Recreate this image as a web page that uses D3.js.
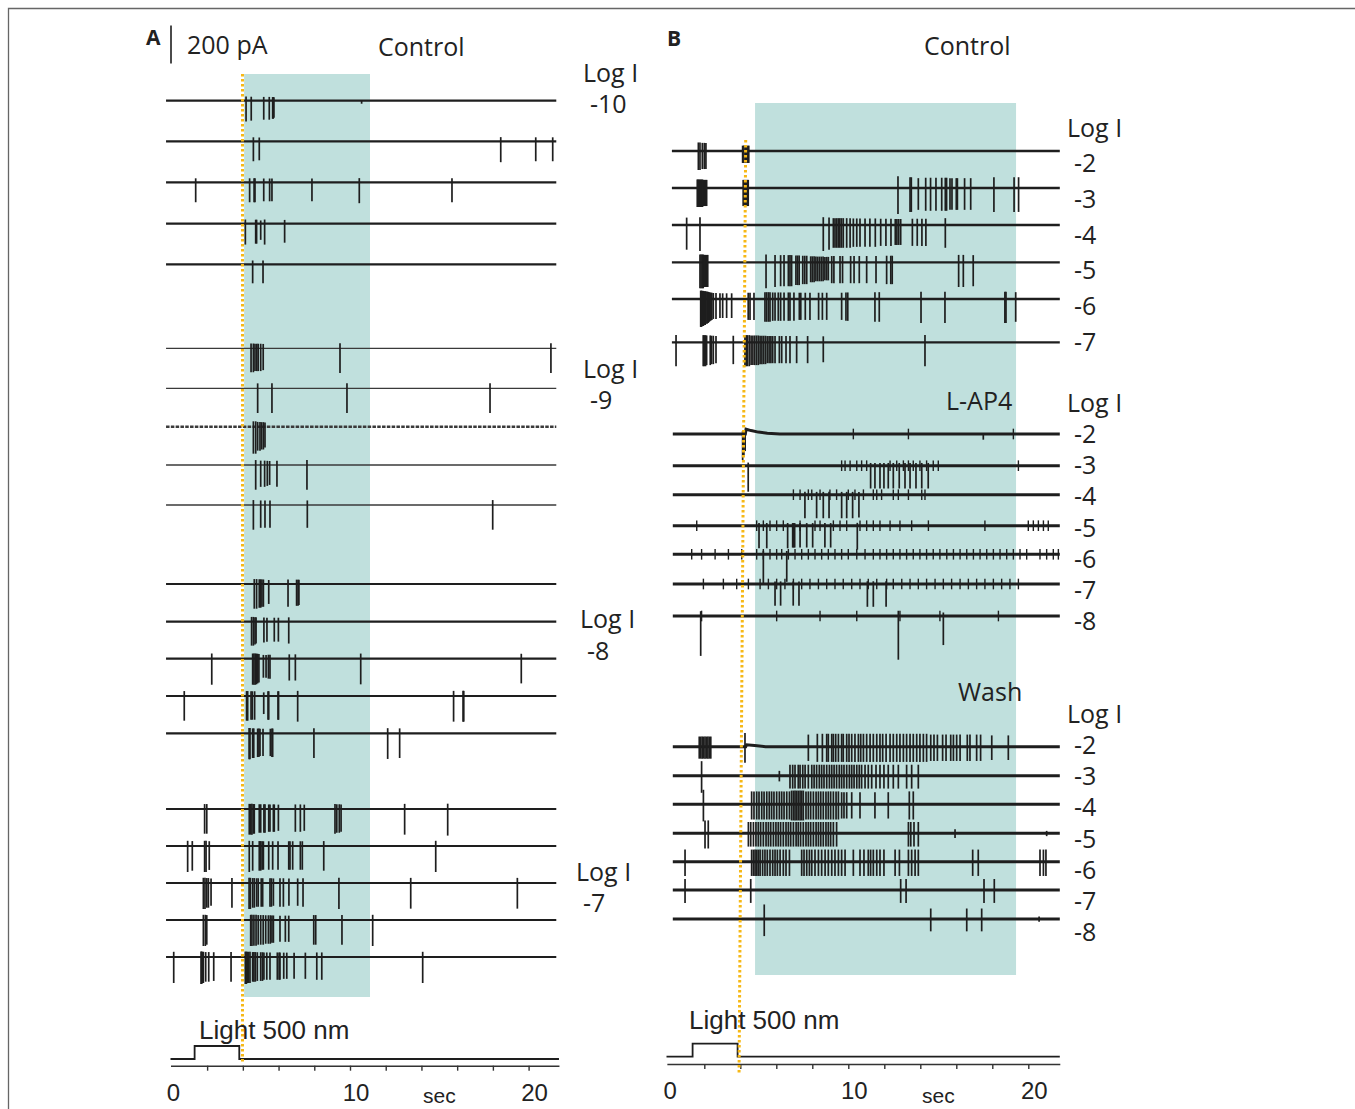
<!DOCTYPE html>
<html>
<head>
<meta charset="utf-8">
<script src="https://cdn.jsdelivr.net/npm/d3@7"></script>
<style>
  body { margin: 0; background: #fff; }
  svg  { display: block; }
  .lbl { font-family: 'Open Sans', sans-serif; fill: #222; }
  .ax  { font-family: 'Liberation Sans', Arial, sans-serif; fill: #222; }
</style>
</head>
<body>
<div id="fig"></div>
<script>
// ---------------- data (times in s, spike amplitudes in pA) ----------------

var tickTimes  = [2, 4, 6, 8, 10, 12, 14, 16, 18, 20];
var tickLabels = [0, 10, 20];

var logIA       = [-10, -9, -8, -7];
var logIControl = [-2, -3, -4, -5, -6, -7];
var logILap4    = [-2, -3, -4, -5, -6, -7, -8];
var logIWash    = [-2, -3, -4, -5, -6, -7, -8];

var lightA  = [1.3, 3.8];
var lightB  = [1.35, 3.85];
var drugA   = [4.07, 11.12];
var drugB   = [4.82, 19.32];
var markA   = [3.98, 3.98];
var markB   = [4.3, 3.93];

// Panel A, Log I -10
var aLog10 = [
  [[4.18,110],[4.47,105],[5.17,100],[5.48,100],[5.67,95],[5.7,95],[5.74,90],[10.65,16]],
  [[4.59,105],[4.92,100],[18.44,110],[20.4,105],[21.35,105]],
  [[1.36,105],[4.38,105],[4.63,105],[4.68,105],[5.17,100],[5.5,100],[5.63,100],[7.87,100],[10.52,110],[15.71,105]],
  [[4.14,110],[4.72,105],[4.77,105],[5.0,85],[5.22,110],[6.34,100]],
  [[4.55,100],[5.13,100]]
];
// Panel A, Log I -9
var aLog9 = [
  [[4.46,126],[4.59,126],[4.68,120],[4.78,120],[4.86,120],[5.0,120],[5.14,115],[9.44,130],[21.25,130]],
  [[4.83,130],[5.63,130],[9.83,130],[17.84,130]],
  [[4.59,142],[4.72,142],[4.83,126],[4.96,126],[5.05,120],[5.15,120],[5.24,110]],
  [[4.72,130],[5.0,115],[5.22,115],[5.37,110],[5.5,105],[5.91,115],[7.59,130]],
  [[4.59,130],[5.0,120],[5.24,120],[5.52,120],[7.61,120],[17.99,130]]
];
// Panel A, Log I -8
var aLog8 = [
  [[4.64,130],[4.77,130],[4.92,125],[5.0,125],[5.07,120],[5.15,120],[5.45,105],[6.53,120],[7.01,115],[7.09,115],[7.14,110]],
  [[4.49,126],[4.59,126],[4.68,120],[4.74,115],[5.18,110],[5.35,105],[5.76,105],[5.99,105],[6.57,115]],
  [[2.26,137],[4.55,137],[4.62,137],[4.69,137],[4.76,135],[4.83,130],[4.9,125],[5.15,100],[5.3,100],[5.43,105],[5.52,105],[6.6,115],[6.94,115],[10.6,135],[19.59,130]],
  [[0.72,130],[4.21,130],[4.27,130],[4.46,125],[4.53,125],[4.66,125],[5.17,95],[5.41,125],[5.45,125],[5.97,125],[6.0,125],[7.07,135],[15.8,135],[16.33,135],[16.37,135]],
  [[4.35,137],[4.4,137],[4.55,130],[4.61,130],[4.83,125],[4.9,125],[4.96,120],[5.13,120],[5.54,120],[5.63,125],[5.67,125],[7.98,130],[12.11,135],[12.78,130]]
];
// Panel A, Log I -7
var aLog7 = [
  [[1.86,130],[1.98,130],[4.36,135],[4.44,135],[4.51,135],[4.59,130],[4.64,130],[4.92,125],[5.0,125],[5.18,125],[5.24,125],[5.45,120],[5.52,120],[5.71,120],[5.76,120],[5.99,115],[6.94,120],[7.22,120],[7.44,115],[9.16,130],[9.26,125],[9.4,125],[9.5,120],[13.06,135],[15.47,140]],
  [[0.91,137],[1.17,130],[1.86,137],[1.94,137],[2.12,126],[4.36,137],[4.55,130],[4.92,130],[5.0,130],[5.08,125],[5.15,125],[5.45,125],[5.67,125],[5.97,125],[6.57,125],[6.64,125],[6.79,125],[7.22,125],[7.33,125],[8.53,130],[14.8,137]],
  [[1.79,137],[1.88,137],[1.98,130],[2.07,130],[2.22,120],[3.39,130],[4.35,137],[4.42,137],[4.55,130],[4.64,130],[4.77,125],[4.86,125],[5.03,125],[5.11,125],[5.52,125],[5.6,125],[5.71,120],[6.08,125],[6.27,125],[6.58,120],[7.07,120],[7.37,125],[9.38,137],[13.4,135],[19.37,135]],
  [[1.79,137],[1.9,137],[1.98,130],[4.44,137],[4.51,137],[4.62,135],[4.74,135],[4.86,130],[5.0,130],[5.14,130],[5.28,125],[5.43,125],[5.54,125],[5.63,120],[5.71,120],[6.08,115],[6.38,115],[6.57,115],[7.97,130],[8.08,130],[9.55,130],[11.27,137]],
  [[0.13,137],[1.66,142],[1.7,142],[1.74,137],[1.79,137],[1.92,130],[2.09,130],[2.37,126],[3.34,130],[4.14,142],[4.2,142],[4.26,137],[4.32,137],[4.4,137],[4.55,130],[4.62,130],[4.7,130],[4.81,126],[5.0,126],[5.1,126],[5.18,120],[5.34,120],[5.52,120],[5.93,120],[6.03,120],[6.08,120],[6.29,115],[6.46,115],[6.87,115],[7.5,115],[8.14,120],[8.42,120],[14.07,137]]
];

// Panel B, Control
var bControl = [
  [[1.67,100],[1.76,100],[1.89,95],[2.0,95],[2.09,95],[4.13,63],[4.2,63],[4.27,63],[4.33,63],[4.4,63],[4.47,63]],
  [[1.61,100],[1.66,100],[1.72,100],[1.78,100],[1.84,100],[1.9,100],[1.96,95],[2.02,95],[2.08,95],[2.13,95],[4.16,95],[4.22,95],[4.28,95],[4.34,95],[4.4,95],[4.44,95],[12.76,137],[13.43,126],[13.5,126],[13.89,115],[14.3,120],[14.57,120],[14.87,120],[15.19,120],[15.39,120],[15.46,120],[15.65,115],[15.76,115],[16.0,115],[16.06,115],[16.46,115],[16.8,115],[18.09,126],[19.21,126],[19.46,126]],
  [[1.02,130],[1.76,137],[8.61,137],[8.93,130],[9.17,120],[9.26,120],[9.35,120],[9.44,120],[9.53,120],[9.62,120],[9.72,120],[9.91,120],[10.1,120],[10.28,115],[10.47,115],[10.65,115],[10.93,115],[11.2,115],[11.5,115],[11.8,110],[12.09,110],[12.37,110],[12.61,105],[12.7,105],[12.8,105],[12.91,105],[13.56,110],[13.83,110],[14.09,110],[14.31,110],[15.39,120]],
  [[1.76,137],[1.82,137],[1.88,137],[1.94,137],[2.0,130],[2.06,130],[2.12,130],[2.19,130],[5.43,137],[5.93,130],[6.24,126],[6.43,126],[6.67,126],[6.76,126],[6.85,126],[7.09,120],[7.18,120],[7.27,120],[7.47,115],[7.58,115],[7.69,115],[7.91,105],[8.0,105],[8.1,105],[8.2,100],[8.3,100],[8.4,100],[8.5,100],[8.6,100],[8.7,95],[8.8,95],[8.89,95],[9.08,110],[9.2,110],[9.54,110],[9.68,110],[10.13,110],[10.32,110],[10.61,110],[11.02,110],[11.54,110],[12.13,115],[12.36,115],[12.44,115],[16.13,130],[16.39,130],[16.94,126]],
  [[1.8,147],[1.85,147],[1.9,142],[1.95,142],[2.0,137],[2.05,137],[2.1,130],[2.16,130],[2.22,126],[2.28,120],[2.35,115],[2.42,110],[2.5,105],[2.65,105],[2.87,100],[3.02,100],[3.24,100],[3.52,100],[4.44,110],[4.54,110],[4.76,110],[5.37,120],[5.46,120],[5.56,120],[5.65,120],[5.8,115],[5.93,115],[6.11,115],[6.24,115],[6.43,115],[6.67,115],[6.76,115],[6.98,115],[7.28,110],[7.36,110],[7.61,110],[7.87,110],[8.35,110],[8.56,110],[8.8,110],[9.63,110],[9.87,115],[9.97,115],[11.48,120],[11.72,120],[14.04,126],[15.37,126],[18.7,126],[18.76,126],[19.3,120]],
  [[0.43,126],[1.94,126],[2.0,126],[2.07,126],[2.13,120],[2.33,120],[2.4,115],[2.5,115],[2.65,110],[3.61,115],[4.26,126],[4.33,126],[4.4,126],[4.5,126],[4.6,120],[4.7,120],[4.8,120],[4.9,120],[5.0,120],[5.1,115],[5.2,115],[5.3,115],[5.4,115],[5.5,110],[5.6,110],[5.7,110],[5.8,110],[5.93,110],[6.17,110],[6.3,110],[6.54,110],[6.76,110],[7.13,110],[7.74,110],[8.61,105],[14.26,126]]
];

// Panel B, L-AP4 (large events)
var bLap4 = [
  [[4.13,137],[4.2,110],[4.27,90],[17.5,30]],
  [[4.44,137],[11.24,120],[11.48,120],[11.76,120],[11.98,120],[12.22,120],[12.5,120],[12.83,120],[13.15,120],[13.43,120],[13.76,120],[14.08,120],[14.44,120]],
  [[7.59,124],[8.24,124],[8.61,124],[8.93,124],[9.63,124],[9.91,124],[10.24,124],[10.59,120]],
  [[5.04,119],[5.47,119],[6.63,119],[6.91,115],[6.96,115],[7.02,115],[7.32,115],[7.69,115],[8.02,115],[8.7,115],[9.02,115],[10.5,126]],
  [[5.28,153],[6.58,145]],
  [[5.93,114],[6.24,114],[6.94,114],[7.26,114],[11.06,120],[11.39,120],[12.1,120]],
  [[1.8,210],[12.78,230],[15.28,153]]
];
// Panel B, L-AP4 small events (times)
var bLap4Small = [
  [10.28, 13.34, 19.17],
  [9.63, 9.82, 10.1, 10.47, 10.74, 11.02, 12.32, 12.69, 13.06, 13.34, 13.61, 13.98, 14.35, 14.72, 15.0, 19.45],
  [6.95, 7.32, 7.78, 7.97, 8.43, 8.98, 9.35, 10.0, 10.37, 10.84, 11.39, 11.58, 11.85, 12.5, 12.78, 13.34, 14.08, 14.26],
  [1.58, 4.91, 5.28, 5.65, 6.02, 6.39, 7.32, 8.15, 8.43, 9.17, 9.54, 9.91, 10.65, 11.02, 11.39, 11.76, 12.32, 12.87, 13.52, 14.45, 17.59, 20.0, 20.28, 20.56, 20.84, 21.11],
  [1.3, 1.85, 2.6, 3.34, 4.08, 4.91, 5.28, 5.65, 6.02, 6.3, 6.67, 7.04, 7.41, 7.78, 8.15, 8.52, 8.89, 9.26, 9.63, 10.0, 10.47, 10.93, 11.39, 11.76, 12.13, 12.5, 12.87, 13.24, 13.61, 13.98, 14.35, 14.72, 15.09, 15.47, 15.84, 16.21, 16.58, 16.95, 17.32, 17.69, 18.06, 18.43, 18.8, 19.17, 19.54, 19.91, 20.65, 21.02, 21.39, 21.67],
  [1.95, 3.06, 3.8, 4.45, 5.1, 5.56, 6.02, 6.48, 6.95, 7.41, 7.87, 8.34, 8.8, 9.26, 9.72, 10.19, 10.65, 11.11, 11.58, 12.13, 12.5, 12.97, 13.43, 13.89, 14.35, 14.82, 15.28, 15.74, 16.21, 16.67, 17.13, 17.59, 18.06, 18.52, 18.98, 19.45],
  [1.85, 6.02, 8.43, 10.47, 12.87, 15.09, 18.34]
];
var lap4SmallAmp = 28;
// slow outward current after the flash, Log I -2 (t, pA)
var lap4Shift = [[4.28,0],[4.32,25],[4.6,18],[5.0,10],[5.5,4],[6.2,0]];

// Panel B, Wash
var bWash = [
  [[1.72,63],[1.8,63],[1.88,63],[1.96,63],[2.04,63],[2.12,63],[2.2,63],[2.28,63],[2.36,63],[4.26,85],[7.78,75],[8.28,80],[8.56,80],[8.8,80],[8.89,80],[9.08,80],[9.17,80],[9.3,80],[9.45,80],[9.63,80],[9.72,80],[9.91,80],[10.04,80],[10.19,80],[10.37,80],[10.56,80],[10.69,80],[10.84,80],[11.02,80],[11.21,80],[11.39,80],[11.58,80],[11.76,80],[11.91,80],[12.1,80],[12.32,80],[12.5,80],[12.69,80],[12.87,80],[13.06,80],[13.24,80],[13.43,80],[13.61,80],[13.8,80],[13.98,80],[14.17,80],[14.35,80],[14.58,75],[14.76,75],[14.95,75],[15.24,75],[15.43,75],[15.69,75],[15.84,75],[16.02,75],[16.21,75],[16.61,75],[16.76,75],[17.13,75],[17.35,75],[17.97,70],[18.89,70]],
  [[1.85,90],[6.17,30],[6.76,68],[6.91,68],[7.04,68],[7.22,68],[7.32,68],[7.47,68],[7.6,68],[7.78,68],[7.97,68],[8.1,68],[8.24,68],[8.39,68],[8.52,68],[8.65,68],[8.8,68],[8.95,68],[9.08,68],[9.21,68],[9.35,68],[9.5,68],[9.63,68],[9.76,68],[9.91,68],[10.06,68],[10.19,68],[10.32,68],[10.47,68],[10.61,68],[10.74,68],[10.93,68],[11.11,68],[11.3,68],[11.54,68],[11.76,68],[11.98,68],[12.22,68],[12.5,68],[12.78,68],[13.24,68],[13.52,68],[13.89,68]],
  [[1.95,90],[4.63,80],[4.76,80],[4.91,80],[5.04,80],[5.19,80],[5.32,80],[5.47,80],[5.61,80],[5.74,80],[5.87,80],[6.02,80],[6.17,80],[6.3,80],[6.43,80],[6.58,80],[6.73,80],[6.85,85],[6.95,85],[7.04,85],[7.13,85],[7.22,85],[7.32,85],[7.41,85],[7.5,85],[7.65,80],[7.78,80],[7.91,80],[8.06,80],[8.21,80],[8.34,80],[8.47,80],[8.61,80],[8.76,80],[8.89,80],[9.02,80],[9.17,80],[9.32,80],[9.45,80],[9.63,75],[9.76,75],[9.91,75],[10.19,75],[10.65,75],[11.48,75],[12.22,75],[13.39,80],[13.61,80]],
  [[2.04,80],[2.22,80],[4.45,70],[4.58,70],[4.73,70],[4.87,70],[5.0,70],[5.13,70],[5.28,70],[5.43,70],[5.56,70],[5.69,70],[5.84,70],[5.98,70],[6.11,70],[6.24,70],[6.39,70],[6.54,70],[6.67,70],[6.8,70],[6.95,70],[7.1,70],[7.22,70],[7.35,70],[7.5,70],[7.65,70],[7.78,70],[7.91,70],[8.06,70],[8.21,70],[8.34,70],[8.47,70],[8.61,70],[8.76,70],[8.89,70],[9.02,70],[9.17,70],[9.35,70],[13.34,70],[13.47,70],[13.65,70],[13.89,70],[15.93,25],[21.02,15]],
  [[0.93,75],[4.63,75],[4.73,75],[4.82,75],[4.91,75],[5.0,75],[5.1,75],[5.24,75],[5.37,75],[5.5,75],[5.65,75],[5.8,75],[5.93,75],[6.06,75],[6.21,75],[6.39,75],[6.54,75],[6.73,75],[7.41,75],[7.54,75],[7.69,75],[7.84,75],[7.97,75],[8.15,75],[8.34,75],[8.52,75],[8.71,75],[8.89,75],[9.08,75],[9.26,75],[9.45,75],[9.63,75],[9.82,75],[10.28,75],[10.65,75],[10.87,75],[11.11,75],[11.24,75],[11.39,75],[11.58,75],[11.76,75],[11.98,75],[12.6,75],[12.84,75],[13.34,75],[13.52,75],[13.71,75],[13.89,75],[16.91,75],[17.22,75],[20.65,75],[20.84,75],[20.98,75]],
  [[0.93,68],[4.58,68],[12.91,68],[13.21,68],[17.54,68],[18.11,68]],
  [[5.33,90],[14.58,65],[16.58,65],[17.41,65],[20.6,15]]
];
var washShift = [[4.3,0],[4.35,10],[4.8,6],[5.4,0]];

// ---------------- layout ----------------

var W = 1355, H = 1109;

var svg = d3.select ('#fig')
            .append ('svg')
            .attr ('width', W)
            .attr ('height', H);

// frame
svg.append ('path')
   .attr ('d', 'M8.5,' + H + ' V8.5 H' + W)
   .attr ('fill', 'none')
   .attr ('stroke', '#666')
   .attr ('stroke-width', 1.3);

var ampScale = d3.scaleLinear ().domain ([0, 200]).range ([0, 38]);

var xA = d3.scaleLinear ().domain ([0, 20]).range ([171.4, 528.6]);
var xB = d3.scaleLinear ().domain ([0, 20]).range ([668.3, 1028.3]);

var teal   = '#c0e0dd';
var orange = '#f6b816';
var ink    = '#1e1e1e';

// drug / period shading
svg.append ('rect')
   .attr ('x', xA (drugA[0])).attr ('y', 74)
   .attr ('width', xA (drugA[1]) - xA (drugA[0])).attr ('height', 997 - 74)
   .attr ('fill', teal);

svg.append ('rect')
   .attr ('x', xB (drugB[0])).attr ('y', 103)
   .attr ('width', xB (drugB[1]) - xB (drugB[0])).attr ('height', 975 - 103)
   .attr ('fill', teal);

function drawTrace (x, y0, spikes, opt)
{
    var g = svg.append ('g');

    var pts = [[opt.t0, 0]].concat (opt.shift || []).concat ([[opt.t1, 0]]);

    var line = d3.line ()
                 .x (function (d) { return x (d[0]); })
                 .y (function (d) { return y0 - ampScale (d[1]); });

    g.append ('path')
     .datum (pts)
     .attr ('d', line)
     .attr ('fill', 'none')
     .attr ('stroke', opt.color || ink)
     .attr ('stroke-width', opt.width)
     .attr ('stroke-dasharray', opt.dash || null);

    if (opt.small)
    {
        g.selectAll (null)
         .data (opt.small)
         .enter ().append ('line')
         .attr ('x1', function (d) { return x (d); })
         .attr ('x2', function (d) { return x (d); })
         .attr ('y1', y0 - ampScale (lap4SmallAmp))
         .attr ('y2', y0 + ampScale (lap4SmallAmp))
         .attr ('stroke', ink)
         .attr ('stroke-width', 1.4);
    }

    g.selectAll (null)
     .data (spikes)
     .enter ().append ('line')
     .attr ('x1', function (d) { return x (d[0]); })
     .attr ('x2', function (d) { return x (d[0]); })
     .attr ('y1', function (d) { return y0 - ampScale (d[1] * opt.up); })
     .attr ('y2', function (d) { return y0 + ampScale (d[1]); })
     .attr ('stroke', ink)
     .attr ('stroke-width', 1.7);
}

// ---- Panel A traces
var rowYA = [ [100.7, 141.3, 182.3, 223.7, 264.3],
              [348.3, 388.3, 426.7, 465, 505],
              [584, 621.7, 658.7, 696, 733.3],
              [809, 846, 883, 920, 957] ];

var groupsA = [aLog10, aLog9, aLog8, aLog7];

groupsA.forEach (function (grp, gi)
{
    grp.forEach (function (spk, ti)
    {
        var thin = (gi == 1);
        drawTrace (xA, rowYA[gi][ti], spk, {
            t0: -0.3, t1: 21.55,
            width: thin ? (ti == 2 ? 2.6 : 1.3) : 2.2,
            color: thin ? '#3a3a3a' : ink,
            dash: (thin && ti == 2) ? '3.5 1.3' : null,
            up: 0.2
        });
    });
});

// ---- Panel B traces
var rowYControl = [151, 188, 225, 262.3, 299, 342.3];
var rowYLap4    = [434, 465.7, 494.7, 525.7, 554.3, 584, 616];
var rowYWash    = [746.7, 775.7, 804.3, 833.3, 861.7, 890, 919];

bControl.forEach (function (spk, i)
{
    drawTrace (xB, rowYControl[i], spk, { t0: 0.2, t1: 21.75, width: 2.3, up: i < 2 ? 0.45 : 0.3 });
});

bLap4.forEach (function (spk, i)
{
    drawTrace (xB, rowYLap4[i], spk, {
        t0: 0.25, t1: 21.75, width: 3, up: 0.12,
        small: bLap4Small[i],
        shift: i == 0 ? lap4Shift : null
    });
});

bWash.forEach (function (spk, i)
{
    drawTrace (xB, rowYWash[i], spk, {
        t0: 0.25, t1: 21.75, width: 3, up: 0.85,
        shift: i == 0 ? washShift : null
    });
});

// ---- light stimulus traces
function drawLight (x, yBase, light, t0, t1)
{
    var stepH = 13;
    var pts = [[t0, 0], [light[0], 0], [light[0], 1], [light[1], 1], [light[1], 0], [t1, 0]];
    var line = d3.line ()
                 .x (function (d) { return x (d[0]); })
                 .y (function (d) { return yBase - d[1] * stepH; });
    svg.append ('path')
       .datum (pts)
       .attr ('d', line)
       .attr ('fill', 'none')
       .attr ('stroke', ink)
       .attr ('stroke-width', 1.8);
}
drawLight (xA, 1059, lightA, -0.05, 21.7);
drawLight (xB, 1056.7, lightB, -0.1, 21.75);

// ---- time axes
function drawAxis (x, y, tEnd, tStart)
{
    var ax = x.copy ().domain ([tStart, tEnd]).range ([x (tStart), x (tEnd)]);
    var axis = d3.axisBottom (ax)
                 .tickValues (tickTimes)
                 .tickSize (5)
                 .tickSizeOuter (0)
                 .tickFormat ('');
    var g = svg.append ('g')
               .attr ('transform', 'translate(0,' + y + ')')
               .call (axis);
    g.selectAll ('path, line').attr ('stroke', '#333').attr ('stroke-width', 1.4);

    svg.selectAll (null)
       .data (tickLabels)
       .enter ().append ('text')
       .attr ('class', 'ax')
       .attr ('x', function (d) { return x (d) + (d == 0 ? 2 : 6); })
       .attr ('y', y + 35)
       .attr ('text-anchor', 'middle')
       .attr ('font-size', 24)
       .text (function (d) { return d; });

    svg.append ('text')
       .attr ('class', 'ax')
       .attr ('x', x (15))
       .attr ('y', 1103)
       .attr ('text-anchor', 'middle')
       .attr ('font-size', 21)
       .text ('sec');
}
drawAxis (xA, 1065.7, 21.7, -0.05);
drawAxis (xB, 1064, 21.75, -0.08);

// ---- flash-offset markers (dotted)
svg.append ('line')
   .attr ('x1', xA (markA[0])).attr ('y1', 74)
   .attr ('x2', xA (markA[1])).attr ('y2', 1062)
   .attr ('stroke', orange).attr ('stroke-width', 3)
   .attr ('stroke-dasharray', '2.5 2.5');

svg.append ('line')
   .attr ('x1', xB (markB[0])).attr ('y1', 140)
   .attr ('x2', xB (markB[1])).attr ('y2', 1075)
   .attr ('stroke', orange).attr ('stroke-width', 3)
   .attr ('stroke-dasharray', '2.5 2.5');

// ---- texts
function txt (x, y, s, size, cls, weight)
{
    svg.append ('text')
       .attr ('class', cls || 'lbl')
       .attr ('x', x).attr ('y', y)
       .attr ('font-size', size)
       .attr ('font-weight', weight || null)
       .text (s);
}

txt (146, 45, 'A', 21, 'lbl', 'bold');
txt (667, 46, 'B', 21, 'lbl', 'bold');

// 200 pA scale bar
svg.append ('line')
   .attr ('x1', 171).attr ('x2', 171)
   .attr ('y1', 63.5).attr ('y2', 63.5 - ampScale (200))
   .attr ('stroke', ink).attr ('stroke-width', 1.6);
txt (187, 54, '200 pA', 25);

txt (378, 56, 'Control', 25);
txt (924, 55, 'Control', 25);
txt (946, 410, 'L-AP4', 25);
txt (958, 701, 'Wash', 25);

txt (199, 1039, 'Light 500 nm', 26, 'ax');
txt (689, 1029, 'Light 500 nm', 26, 'ax');

// Log I labels, panel A
var labA = [ [583, 73, 104], [583, 369, 400], [580, 619, 651], [576, 872, 903] ];
logIA.forEach (function (v, i)
{
    txt (labA[i][0], labA[i][1] + 9, 'Log I', 25);
    txt (labA[i][0] + 7, labA[i][2] + 9, String (v), 25);
});

// Log I labels, panel B
function logLabels (vals, yLog, yFirst, step)
{
    txt (1067, yLog + 9, 'Log I', 25);
    vals.forEach (function (v, i)
    {
        txt (1074, yFirst + i * step + 9, String (v), 25);
    });
}
logLabels (logIControl, 128, 163, 35.8);
logLabels (logILap4,    403, 434, 31.2);
logLabels (logIWash,    714, 745, 31.2);
</script>
</body>
</html>
